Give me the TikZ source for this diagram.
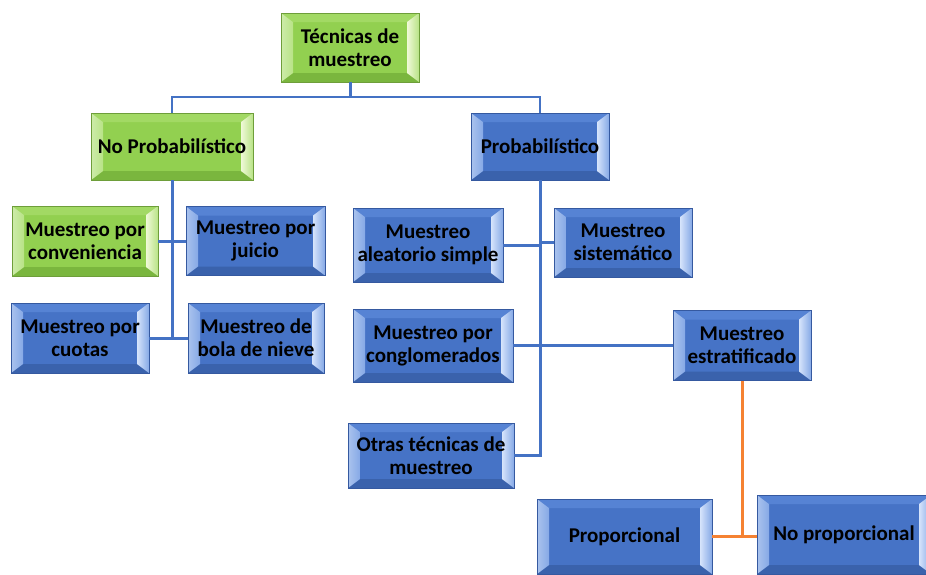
\documentclass[tikz,border=0pt]{standalone}
\usepackage{fontspec}
\setmainfont{Carlito}
\usetikzlibrary{calc}
\definecolor{bmain}{HTML}{4673C6}
\definecolor{btop}{HTML}{5683D4}
\definecolor{bleft}{HTML}{86A9E6}
\definecolor{bright1}{HTML}{D6E4FB}
\definecolor{bbot}{HTML}{3A62AC}
\definecolor{bedge}{HTML}{3559A0}
\definecolor{gmain}{HTML}{92D050}
\definecolor{gtop}{HTML}{A2D964}
\definecolor{gleft}{HTML}{B8E386}
\definecolor{gright1}{HTML}{F0F9D8}
\definecolor{gbot}{HTML}{7AB63E}
\definecolor{gedge}{HTML}{6E9E3A}
\definecolor{lineblue}{HTML}{4472C4}
\definecolor{lineorange}{HTML}{F58232}
\tikzset{
  bevel/.style n args={6}{
    draw=#6, line width=0.8pt, fill=#1,
    font=\bfseries\fontsize{21}{23}\selectfont, align=center, text=black,
    inner sep=0pt,
    path picture={
      \coordinate (pNW) at (path picture bounding box.north west);
      \coordinate (pNE) at (path picture bounding box.north east);
      \coordinate (pSW) at (path picture bounding box.south west);
      \coordinate (pSE) at (path picture bounding box.south east);
      \fill[#2] (pNW) -- (pNE) -- ($(pNE)+(-12pt,-9pt)$) -- ($(pNW)+(12pt,-9pt)$) -- cycle;
      \fill[#5] (pSW) -- (pSE) -- ($(pSE)+(-12pt,9pt)$) -- ($(pSW)+(12pt,9pt)$) -- cycle;
      \shade[left color=#3!70!white, right color=#3] (pNW) -- ($(pNW)+(12pt,-9pt)$) -- ($(pSW)+(12pt,9pt)$) -- (pSW) -- cycle;
      \shade[left color=#4, right color=#3] (pNE) -- ($(pNE)+(-12pt,-9pt)$) -- ($(pSE)+(-12pt,9pt)$) -- (pSE) -- cycle;
    }
  },
  bluebox/.style={bevel={bmain}{btop}{bleft}{bright1}{bbot}{bedge}},
  greenbox/.style={bevel={gmain}{gtop}{gleft}{gright1}{gbot}{gedge}},
  thickline/.style={draw=lineblue, line width=3pt},
  thinline/.style={draw=lineblue, line width=1.5pt},
  orangeline/.style={draw=lineorange, line width=3pt},
}
\begin{document}
\begin{tikzpicture}[x=1pt,y=-1pt]
\useasboundingbox (0,0) rectangle (926,574);
% nodes
\node[greenbox, minimum width=138pt, minimum height=69pt] (top) at (350,47.5) {Técnicas de\\muestreo};
\node[greenbox, minimum width=162pt, minimum height=67pt] (noprob) at (172,146.5) {No Probabilístico};
\node[bluebox, minimum width=138pt, minimum height=67pt] (prob) at (540,146.5) {Probabilístico};
\node[greenbox, minimum width=146pt, minimum height=70pt] (conv) at (85,241) {Muestreo por\\conveniencia};
\node[bluebox, minimum width=139pt, minimum height=69pt] (juicio) at (255.5,241) {Muestreo por\\juicio};
\node[bluebox, minimum width=138pt, minimum height=70pt] (cuotas) at (80,338) {Muestreo por\\cuotas};
\node[bluebox, minimum width=136pt, minimum height=70pt] (bola) at (256,338) {Muestreo de\\bola de nieve};
\node[bluebox, minimum width=150pt, minimum height=74pt] (aleat) at (428,245) {Muestreo\\aleatorio simple};
\node[bluebox, minimum width=138pt, minimum height=69pt] (sist) at (623,242.5) {Muestreo\\sistemático};
\node[bluebox, minimum width=160pt, minimum height=73pt] (congl) at (433,345.5) {Muestreo por\\conglomerados};
\node[bluebox, minimum width=138pt, minimum height=70pt] (estrat) at (742,345.5) {Muestreo\\estratificado};
\node[bluebox, minimum width=166pt, minimum height=65pt] (otras) at (431,455.5) {Otras técnicas de\\muestreo};
\node[bluebox, minimum width=175pt, minimum height=75pt] (prop) at (624.5,536.5) {Proporcional};
\node[bluebox, minimum width=174pt, minimum height=79pt] (noprop) at (844,534.5) {No proporcional};
% coordinates
\coordinate (jt) at (350,97);
\coordinate (lb) at (172,338);
\coordinate (rb) at (prob.south |- otras.east);
\coordinate (ob) at (estrat.south |- prop.east);
% connectors
\draw[thickline] (top.south) -- (jt);
\draw[thinline] (noprob.north) -- (noprob.north |- jt) -- (prob.north |- jt) -- (prob.north);
\draw[thickline] (noprob.south) -- (lb);
\draw[thickline] (conv.east) -- (juicio.west);
\draw[thickline] (cuotas.east) -- (bola.west);
\draw[thickline] (prob.south) -- (rb) -- (otras.east);
\draw[thickline] (aleat.east) -- (aleat.east -| prob.south);
\draw[thickline] (sist.west) -- (sist.west -| prob.south);
\draw[thickline] (congl.east) -- (estrat.west);
\draw[orangeline] (estrat.south) -- (ob);
\draw[orangeline] (prop.east) -- (ob) -- (ob -| noprop.west);
\end{tikzpicture}
\end{document}
